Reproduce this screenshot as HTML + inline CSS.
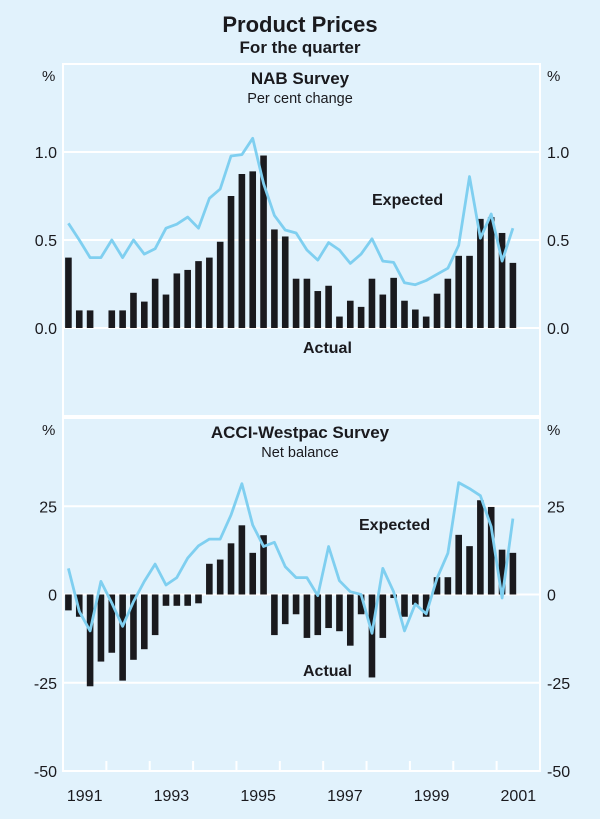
<!DOCTYPE html>
<html><head><meta charset="utf-8"><style>
body{margin:0;background:#e1f2fc;}
svg{display:block;font-family:"Liberation Sans",Arial,sans-serif;}
</style></head><body>
<svg id="c" width="600" height="819" viewBox="0 0 600 819">
<rect width="600" height="819" fill="#e1f2fc"/>
<text x="300" y="32" text-anchor="middle" font-size="22" font-weight="bold" fill="#1a1a1e">Product Prices</text>
<text x="300" y="53" text-anchor="middle" font-size="17" font-weight="bold" fill="#1a1a1e">For the quarter</text>
<g id="g"></g>
</svg>
<script>
const nabActual=[0.40,0.10,0.10,0,0.10,0.10,0.20,0.15,0.28,0.19,0.31,0.33,0.38,0.40,0.49,0.75,0.875,0.89,0.98,0.56,0.52,0.28,0.28,0.21,0.24,0.065,0.155,0.12,0.28,0.19,0.285,0.155,0.105,0.065,0.195,0.28,0.41,0.41,0.62,0.63,0.54,0.37];
const nabExpected=[0.595,0.50,0.40,0.40,0.50,0.40,0.50,0.42,0.45,0.567,0.59,0.63,0.567,0.737,0.79,0.977,0.985,1.078,0.82,0.64,0.557,0.54,0.443,0.386,0.485,0.443,0.367,0.42,0.507,0.38,0.373,0.257,0.246,0.27,0.305,0.34,0.47,0.86,0.51,0.648,0.38,0.567];
const acciActual=[-4.5,-6.3,-26,-19,-16.5,-24.4,-18.5,-15.5,-11.5,-3.2,-3.2,-3.2,-2.5,8.7,9.9,14.5,19.6,11.8,16.8,-11.5,-8.4,-5.6,-12.3,-11.5,-9.5,-10.4,-14.5,-5.6,-23.5,-12.3,-1.0,-6.3,-2.9,-6.3,4.9,4.9,16.9,13.7,26.7,24.8,12.7,11.8];
const acciExpected=[7.4,-4.8,-10.3,3.7,-2.4,-9,-2.0,3.7,8.6,2.7,4.8,10.3,13.8,15.7,15.7,22.5,31.4,19.7,13.6,14.8,7.9,4.8,4.8,-0.3,13.6,3.9,0.8,0,-11,7.4,0.8,-10.3,-2.7,-5.5,4.6,11.7,31.7,30,28,19.2,-1,21.5];
const years=["1991","1993","1995","1997","1999","2001"];
const nabTicks=["1.0","0.5","0.0"], nabTickVals=[1.0,0.5,0.0];
const acciTicks=["25","0","-25","-50"], acciTickVals=[25,0,-25,-50];

const NS="http://www.w3.org/2000/svg";
const g=document.getElementById('g');
const L=63,R=540,NQ=44,qw=(R-L)/NQ;
const xq=i=>L+(i+0.5)*qw;
function el(t,a,txt){const e=document.createElementNS(NS,t);for(const k in a)e.setAttribute(k,a[k]);if(txt!==undefined)e.textContent=txt;g.appendChild(e);return e;}
function panel(name,top,bot,min,max,ticks,tickVals,act,exp,title,sub,expLab,actLab){
  const y=v=>bot-(v-min)/(max-min)*(bot-top);
  let e;
  e=el('rect',{x:L,y:top,width:R-L,height:bot-top,fill:'none',stroke:'#fff','stroke-width':2});
  
  tickVals.forEach((v,k)=>{
    if(v>min&&v<max){e=el('line',{x1:L,x2:R,y1:y(v),y2:y(v),stroke:'#fff','stroke-width':2});
    }
    e=el('text',{x:57,y:y(v)+6,'text-anchor':'end','font-size':16,fill:'#1a1a1e'},ticks[k]);
    
    e=el('text',{x:547,y:y(v)+6,'font-size':16,fill:'#1a1a1e'},ticks[k]);
    
  });
  e=el('text',{x:42,y:top+17,'font-size':15,fill:'#1a1a1e'},'%');
  
  e=el('text',{x:547,y:top+17,'font-size':15,fill:'#1a1a1e'},'%');
  
  e=el('text',{x:300,y:top+20,'text-anchor':'middle','font-size':17,'font-weight':'bold',fill:'#1a1a1e'},title);
  
  e=el('text',{x:300,y:top+39,'text-anchor':'middle','font-size':14.5,fill:'#1a1a1e','xml:space':'preserve'},sub);
  
  act.forEach((v,i)=>{
    if(v===0)return;
    const y0=y(0),y1=y(v);
    e=el('rect',{x:xq(i)-3.3,y:Math.min(y0,y1),width:6.6,height:Math.abs(y1-y0),fill:'#1a1a1e'});
    
  });
  e=el('polyline',{points:exp.map((v,i)=>xq(i).toFixed(1)+','+y(v).toFixed(1)).join(' '),fill:'none',stroke:'#7fcff0','stroke-width':2.8,'stroke-linejoin':'round'});
  
  e=el('text',{x:expLab[0],y:expLab[1],'font-size':16,'font-weight':'bold',fill:'#1a1a1e'},'Expected');
  
  e=el('text',{x:actLab[0],y:actLab[1],'font-size':16,'font-weight':'bold',fill:'#1a1a1e'},'Actual');
  
}
panel('nab',64,416,-0.5,1.5,nabTicks,nabTickVals,nabActual,nabExpected,'NAB Survey','Per cent  change',[372,205],[303,353]);
panel('acci',418,771,-50,50,acciTicks,acciTickVals,acciActual,acciExpected,'ACCI-Westpac Survey','Net balance',[359,530],[303,676]);
for(let k=1;k<11;k++){
  const x=L+k*4*qw;
  const e=el('line',{x1:x,x2:x,y1:761,y2:771,stroke:'#fff','stroke-width':2});
  
}
years.forEach((yr,k)=>{
  const x=L+(2*k+0.5)*4*qw;
  const e=el('text',{x:x,y:801,'text-anchor':'middle','font-size':16,fill:'#1a1a1e'},yr);
  
});
</script>
</body></html>
